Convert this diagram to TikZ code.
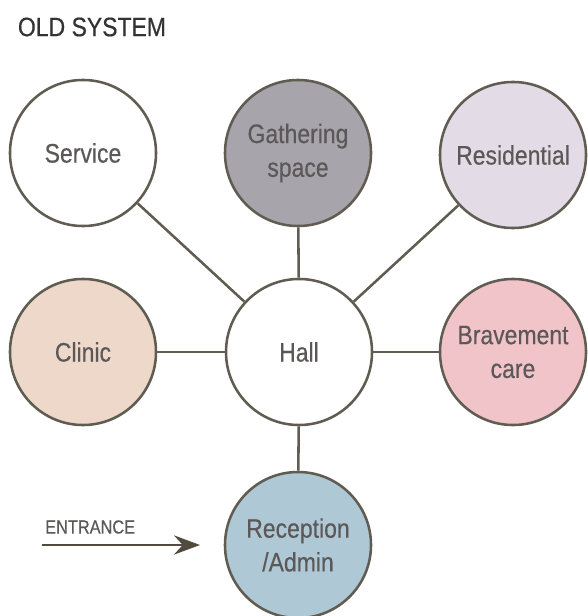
\documentclass[tikz,border=0pt]{standalone}
\usepackage{fontspec}
\setmainfont{Liberation Sans}[FakeStretch=0.86,FakeBold=0.4]
\usepackage{tikz}
\usetikzlibrary{positioning,arrows.meta}

\definecolor{edgecol}{RGB}{96,92,82}
\definecolor{arrowcol}{RGB}{82,74,62}
\definecolor{textcol}{RGB}{92,88,88}
\definecolor{gathercol}{RGB}{168,164,171}
\definecolor{residcol}{RGB}{227,219,230}
\definecolor{cliniccol}{RGB}{237,216,202}
\definecolor{bravecol}{RGB}{241,196,201}
\definecolor{recepcol}{RGB}{175,200,213}

\begin{document}
\begin{tikzpicture}[x=0.025cm,y=-0.025cm,line width=1.8pt,draw=edgecol]
    \tikzstyle{room}=[circle,draw=edgecol,fill=white,minimum size=3.65cm,inner sep=0pt,
        align=center,text=textcol,font=\fontsize{19}{24}\selectfont]

    \useasboundingbox (0,0) rectangle (587,616);

    % title
    \node[anchor=west,text=black!80,font=\fontsize{19}{22}\selectfont] (title) at (12,27) {OLD SYSTEM};

    % rooms
    \node[room] (service) at (83,153)  {Service};
    \node[room,fill=gathercol] (gather) at (298,153) {Gathering\\space};
    \node[room,fill=residcol]  (resid)  at (513,155) {Residential};
    \node[room,fill=cliniccol] (clinic) at (83,352)  {Clinic};
    \node[room] (hall) at (299,352) {Hall};
    \node[room,fill=bravecol]  (brave)  at (513,352) {Bravement\\care};
    \node[room,fill=recepcol]  (recep)  at (298,545) {Reception\\/Admin};

    \foreach \n in {service,gather,resid,clinic,brave,recep} {
        \draw[edgecol] (hall) -- (\n);
    }

    % entrance
    \coordinate (door) at (42,545);
    \node[anchor=south west,text=textcol,font=\fontsize{13.5}{16}\selectfont,inner sep=0pt] (entr) at (44,535) {ENTRANCE};
    \draw[arrowcol,-{Stealth[length=0.65cm,width=0.48cm,inset=0.22cm]}] (door) -- (200,545) coordinate (doorend);
\end{tikzpicture}
\end{document}
